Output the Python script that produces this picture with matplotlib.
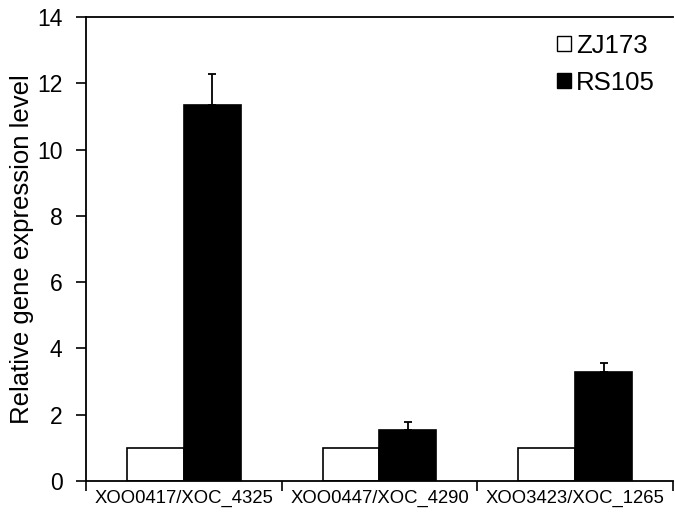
import numpy as np
import matplotlib.pyplot as plt
from matplotlib.patches import Patch

plt.rcParams['font.family'] = ['Liberation Sans', 'DejaVu Sans']

genes = ['XOO0417/XOC_4325', 'XOO0447/XOC_4290', 'XOO3423/XOC_1265']
zj173 = [1.0, 1.0, 1.0]
rs105 = [11.35, 1.55, 3.28]
rs105_err = [0.92, 0.23, 0.28]

fig = plt.figure(figsize=(6.75, 5.12), dpi=100)
ax = fig.add_axes([0.1274, 0.0605, 0.8696, 0.9063])

x = np.arange(len(genes))
w = 0.29
ax.bar(x - w / 2, zj173, w, color='white', edgecolor='black', linewidth=1.2)
ax.bar(x + w / 2, rs105, w, color='black', edgecolor='black', linewidth=1.2)
ax.errorbar(x + w / 2, rs105, yerr=[np.zeros(len(genes)), rs105_err],
            fmt='none', ecolor='black', elinewidth=1.3, capsize=3, capthick=1.3)

ax.set_xlim(-0.5, 2.5)
ax.set_ylim(0, 14)
ax.set_yticks(np.arange(0, 15, 2))
ax.tick_params(axis='y', labelsize=16.5, length=7, width=1.2, direction='out', pad=10)

ax.set_xticks(x)
ax.set_xticklabels(genes, fontsize=13.3)
ax.tick_params(axis='x', which='major', length=0, pad=6)
ax.set_xticks(np.arange(-0.5, 2.6, 1), minor=True)
ax.tick_params(axis='x', which='minor', length=7, width=1.2, direction='out')

ax.set_ylabel('Relative gene expression level', fontsize=18.5, labelpad=2)

ax.spines['right'].set_visible(False)
for s in ['left', 'top', 'bottom']:
    ax.spines[s].set_linewidth(1.3)

# legend (squares left of labels, top right)
handles = [Patch(facecolor='white', edgecolor='black', label='ZJ173'),
           Patch(facecolor='black', edgecolor='black', label='RS105')]
ax.legend(handles=handles, loc='upper right', bbox_to_anchor=(1.009, 1.014),
          frameon=False, fontsize=18.5, handlelength=0.55, handleheight=0.5,
          handletextpad=0.2, labelspacing=0.51)

fig.savefig('out.png', dpi=100)
